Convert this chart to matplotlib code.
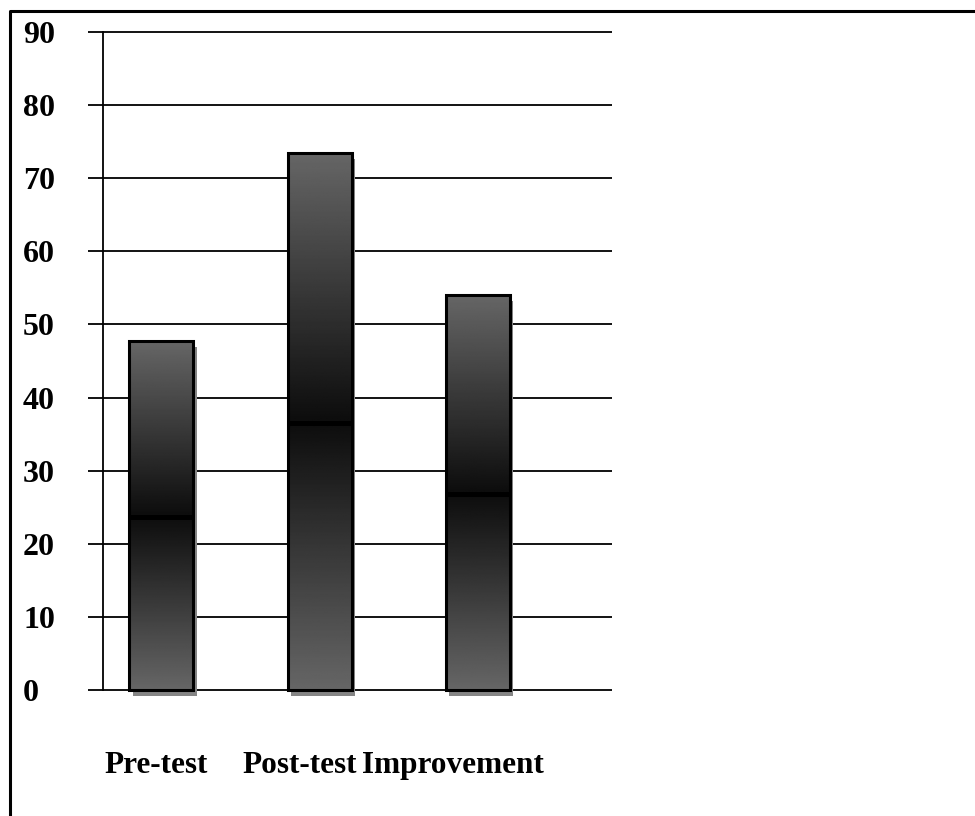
import matplotlib.pyplot as plt
import matplotlib.patheffects as pe
from matplotlib.lines import Line2D
import numpy as np

# данные
categories = ['Pre-test', 'Post-test', 'Improvement']
values = [47.7, 73.5, 54.0]
yticks = [0, 10, 20, 30, 40, 50, 60, 70, 80, 90]

font = 'Liberation Serif'

fig = plt.figure(figsize=(9.75, 8.16), dpi=100)
ax = fig.add_axes([103 / 975, 1 - 690 / 816, 509 / 975, 658 / 816])

x = np.arange(len(categories))
width = 0.405

# сетка (вылезает влево как засечки)
ax.hlines(yticks, -0.03, 1, transform=ax.get_yaxis_transform(),
          colors='black', lw=1.3, clip_on=False, zorder=1)

bars = ax.bar(x, values, width=width, color='#666666', edgecolor='none', zorder=2,
              clip_on=False,
              path_effects=[pe.SimplePatchShadow(offset=(2.2, -4.3), shadow_rgbFace='#858585', alpha=1.0),
                            pe.Normal()])

# градиент: серый сверху и снизу, чёрный в середине
t = np.linspace(0, 1, 400)
grad = 0.05 + 0.35 * np.abs(2 * t - 1)
img = np.repeat(grad[:, None], 2, axis=1)
for b in bars:
    x0, w, h = b.get_x(), b.get_width(), b.get_height()
    im = ax.imshow(img, cmap='gray', vmin=0, vmax=1, origin='lower', aspect='auto',
                   extent=(x0, x0 + w, 0, h), zorder=3, interpolation='bilinear')
    im.set_clip_path(b)
    ax.hlines(h / 2 - 0.25, x0, x0 + w, colors='black', lw=3.5, zorder=4)
    ax.add_patch(plt.Rectangle((x0, 0), w, h, fill=False, edgecolor='black', lw=2.2,
                               zorder=5, clip_on=False))

ax.set_xlim(-0.37, 2.85)
ax.set_ylim(0, 90)

for s in ['top', 'right', 'bottom']:
    ax.spines[s].set_visible(False)
ax.spines['left'].set_linewidth(1.3)
ax.spines['left'].set_zorder(1)

ax.set_xticks([])
ax.set_yticks(yticks)
ax.tick_params(axis='y', length=0, pad=57.6)
ax.set_yticklabels([str(v) for v in yticks], fontfamily=font, fontweight='bold', fontsize=23)
for lab in ax.get_yticklabels():
    lab.set_horizontalalignment('left')

# подписи категорий (как в оригинале, не по центру столбиков)
label_x = [-0.035, 0.876, 1.841]
for lx, name in zip(label_x, categories):
    ax.text(lx, -0.1155, name, transform=ax.get_xaxis_transform(), ha='center', va='center',
            fontfamily=font, fontweight='bold', fontsize=22.5)

# рамка
fig.add_artist(Line2D([10 / 975, 10 / 975, 1.0], [0.0, 1 - 11 / 816, 1 - 11 / 816],
                      transform=fig.transFigure, color='black', lw=2.2))

fig.savefig('out.png', dpi=100)
